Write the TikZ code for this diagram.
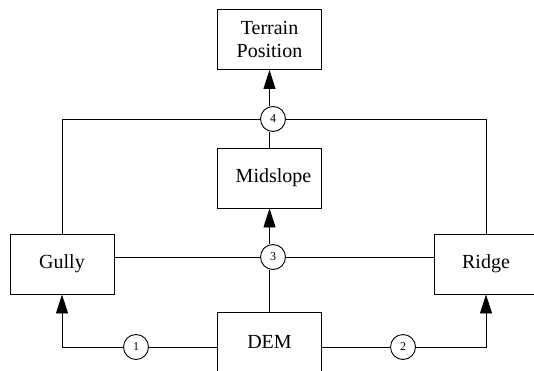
\documentclass[tikz,border=0pt]{standalone}
\usepackage{fontspec}
\setmainfont{Liberation Serif}
\usetikzlibrary{arrows.meta}
\begin{document}
\begin{tikzpicture}[x=1pt,y=-1pt,
  line width=0.9pt,
  box/.style={draw,rectangle,minimum width=104pt,minimum height=60pt,inner sep=0pt,align=center,font=\fontsize{20}{23}\selectfont},
  num/.style={draw,circle,minimum size=25pt,inner sep=0pt,fill=white,font=\fontsize{12}{14}\selectfont},
  arr/.style={-{Triangle[length=19pt,width=12pt]}}]
\useasboundingbox (0,0) rectangle (534,371);
\clip (0,0) rectangle (534,371);
\node[box] (terrain) at (269.5,39.5) {Terrain\\Position};
\node[box] (mid) at (269.5,178) {\hspace*{8pt}Midslope};
\node[box] (gully) at (62,264) {Gully};
\node[box] (ridge) at (486,264) {Ridge};
\node[box] (dem) at (269.5,342) {DEM};
\node[num] (c4) at (273,119) {4};
\node[num] (c3) at (273,257) {3};
\node[num] (c1) at (136,347) {1};
\node[num] (c2) at (403,347) {2};
% top junction
\draw[arr] (terrain.south |- c4.north) -- (terrain.south);
\draw (mid.north) -- (mid.north |- c4.south);
\draw (gully.north) -- (gully.north |- c4) -- (c4.west);
\draw (ridge.north) -- (ridge.north |- c4) -- (c4.east);
% middle junction
\draw[arr] (mid.south |- c3.north) -- (mid.south);
\draw (dem.north) -- (dem.north |- c3.south);
\draw (gully.east |- c3) -- (c3.west);
\draw (ridge.west |- c3) -- (c3.east);
% bottom
\draw (dem.west |- c1) -- (c1.east);
\draw[arr] (c1.west) -- (gully.south |- c1) -- (gully.south);
\draw (dem.east |- c2) -- (c2.west);
\draw[arr] (c2.east) -- (ridge.south |- c2) -- (ridge.south);
\end{tikzpicture}
\end{document}
